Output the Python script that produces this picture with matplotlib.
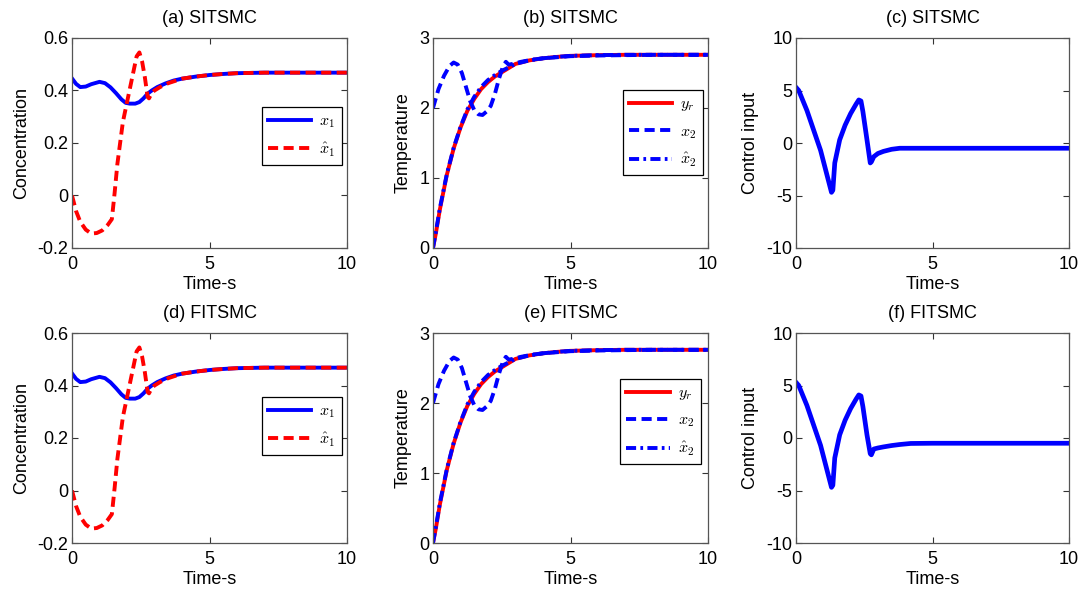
import matplotlib
matplotlib.use("Agg")
import matplotlib.pyplot as plt

plt.rcParams['font.family'] = ['Liberation Sans', 'DejaVu Sans']
plt.rcParams['mathtext.fontset'] = 'cm'
plt.rcParams['axes.unicode_minus'] = False

# ---------------- data ----------------
# Concentration x1 (true) and estimate
t_x1 = [0, 0.15, 0.3, 0.5, 0.7, 1.0, 1.2, 1.4, 1.6, 1.8, 1.95, 2.1, 2.3, 2.45,
        2.6, 2.75, 2.9, 3.1, 3.4, 3.7, 4.0, 4.5, 5.0, 5.5, 6.0, 7.0, 8.0, 10.0]
x1 = [0.446, 0.425, 0.413, 0.415, 0.424, 0.433, 0.428, 0.412, 0.390, 0.366,
      0.353, 0.350, 0.350, 0.356, 0.370, 0.388, 0.400, 0.413, 0.427, 0.438,
      0.445, 0.453, 0.459, 0.463, 0.466, 0.468, 0.468, 0.468]

t_x1h = [0, 0.15, 0.3, 0.5, 0.7, 0.9, 1.1, 1.3, 1.45, 1.55, 1.65, 1.75, 1.85,
         1.95, 2.05, 2.15, 2.25, 2.35, 2.45, 2.55, 2.65, 2.75, 2.8, 2.9, 3.0,
         3.2, 3.5, 4.0, 4.5, 5.0, 5.5, 6.0, 7.0, 8.0, 10.0]
x1_hat = [0.0, -0.06, -0.10, -0.13, -0.145, -0.143, -0.133, -0.112, -0.09,
          0.01, 0.12, 0.20, 0.28, 0.33, 0.38, 0.43, 0.48, 0.53, 0.545, 0.51,
          0.45, 0.375, 0.37, 0.39, 0.40, 0.413, 0.428, 0.445, 0.453, 0.459,
          0.463, 0.466, 0.468, 0.468, 0.468]

# Temperature: reference, x2, estimate
t_yr = [0, 0.1, 0.25, 0.5, 0.75, 1.0, 1.25, 1.5, 1.75, 2.0, 2.25, 2.5, 2.75,
        3.0, 3.5, 4.0, 4.5, 5.0, 6.0, 7.0, 8.0, 10.0]
y_r = [0, 0.2, 0.55, 1.04, 1.42, 1.72, 1.96, 2.13, 2.27, 2.37, 2.45, 2.51,
       2.57, 2.63, 2.68, 2.71, 2.73, 2.745, 2.755, 2.76, 2.76, 2.76]

t_x2 = [0, 0.2, 0.4, 0.6, 0.75, 0.9, 1.05, 1.2, 1.35, 1.5, 1.65, 1.8, 1.95,
        2.1, 2.25, 2.4, 2.55, 2.65, 2.75, 2.9, 3.2, 3.6, 4.0, 5.0, 6.0, 7.0,
        8.0, 10.0]
x2 = [2.0, 2.27, 2.46, 2.6, 2.65, 2.62, 2.5, 2.3, 2.1, 1.97, 1.91, 1.9, 1.95,
      2.03, 2.2, 2.42, 2.6, 2.66, 2.62, 2.63, 2.66, 2.69, 2.71, 2.74, 2.75,
      2.755, 2.76, 2.76]

t_x2h = [0, 0.1, 0.25, 0.5, 0.75, 1.0, 1.25, 1.5, 1.75, 2.0, 2.25, 2.5, 2.75,
         3.0, 3.5, 4.0, 4.5, 5.0, 6.0, 7.0, 8.0, 10.0]
x2_hat = [0, 0.22, 0.57, 1.05, 1.43, 1.73, 1.98, 2.16, 2.30, 2.40, 2.47, 2.53,
          2.58, 2.63, 2.68, 2.71, 2.73, 2.745, 2.755, 2.76, 2.76, 2.76]

# Control input
t_u = [0, 0.1, 0.4, 0.9, 1.3, 1.35, 1.42, 1.6, 1.8, 2.0, 2.2, 2.3, 2.38, 2.45,
       2.6, 2.72, 2.76, 2.85, 3.0, 3.2, 3.5, 3.8, 4.2, 5.0, 10.0]
u_si = [5.3, 5.0, 3.1, -0.7, -4.7, -4.5, -1.9, 0.3, 1.7, 2.8, 3.7, 4.1, 4.0,
        3.0, 0.3, -1.9, -1.8, -1.3, -1.0, -0.8, -0.6, -0.5, -0.5, -0.5, -0.5]
u_fi = [5.3, 5.0, 3.1, -0.7, -4.7, -4.5, -1.9, 0.3, 1.7, 2.8, 3.7, 4.1, 4.0,
        3.0, 0.3, -1.5, -1.6, -1.05, -0.95, -0.85, -0.72, -0.62, -0.52, -0.5, -0.5]

titles = ['(a) SITSMC', '(b) SITSMC', '(c) SITSMC',
          '(d) FITSMC', '(e) FITSMC', '(f) FITSMC']
ylabels = ['Concentration', 'Temperature', 'Control input']

# ---------------- figure ----------------
W, H = 1083, 592
fig = plt.figure(figsize=(W / 100, H / 100), dpi=100)

lefts = [72, 433, 796]
widths = [275, 275, 273]
tops = [38, 333]
ah = 210

BLUE = '#0000ff'
RED = '#ff0000'
LW = 2.8
DASH = (0, (2.6, 1.4))
DASHDOT = (0, (2.6, 1.1, 0.7, 1.1))
FS = 13

leg_anchor = {0: (0.69, 0.671), 1: (0.69, 0.752), 3: (0.69, 0.695), 4: (0.68, 0.781)}

axes = []
for r in range(2):
    for c in range(3):
        ax = fig.add_axes([lefts[c] / W, 1 - (tops[r] + ah) / H, widths[c] / W, ah / H])
        axes.append(ax)

for i, ax in enumerate(axes):
    c = i % 3
    if c == 0:
        ax.plot(t_x1, x1, color=BLUE, lw=LW, label=r'$x_1$')
        ax.plot(t_x1h, x1_hat, color=RED, lw=LW, ls=DASH, label=r'$\hat{x}_1$')
        ax.set_ylim(-0.2, 0.6)
        ax.set_yticks([-0.2, 0, 0.2, 0.4, 0.6])
        ax.set_yticklabels(['-0.2', '0', '0.2', '0.4', '0.6'])
    elif c == 1:
        ax.plot(t_yr, y_r, color=RED, lw=LW, label=r'$y_r$')
        ax.plot(t_x2, x2, color=BLUE, lw=LW, ls=DASH, label=r'$x_2$')
        ax.plot(t_x2h, x2_hat, color=BLUE, lw=LW, ls=DASHDOT, label=r'$\hat{x}_2$')
        ax.set_ylim(0, 3)
        ax.set_yticks([0, 1, 2, 3])
    else:
        u = u_si if i < 3 else u_fi
        ax.plot(t_u, u, color=BLUE, lw=3.4)
        ax.set_ylim(-10, 10)
        ax.set_yticks([-10, -5, 0, 5, 10])
    ax.set_xlim(0, 10)
    ax.set_xticks([0, 5, 10])
    ax.set_title(titles[i], fontsize=FS, pad=10.5)
    ax.set_xlabel('Time-s', fontsize=FS, labelpad=2.5)
    ax.set_ylabel(ylabels[c], fontsize=FS, labelpad=5.5)
    ax.tick_params(direction='in', top=True, right=True, length=4, width=0.8,
                   labelsize=FS, color='#333333')
    ax.tick_params(axis='x', pad=5.5)
    ax.tick_params(axis='y', pad=2.5)
    for s in ax.spines.values():
        s.set_color('#555555')
        s.set_linewidth(0.9)
    if c < 2:
        leg = ax.legend(loc='upper left', bbox_to_anchor=leg_anchor[i], fontsize=11.5,
                        frameon=True, fancybox=False, edgecolor='black', framealpha=1,
                        handlelength=2.7, handletextpad=0.5, labelspacing=0.65,
                        borderpad=0.4, borderaxespad=0)
        leg.get_frame().set_linewidth(0.9)

fig.savefig('out.png', dpi=100)
